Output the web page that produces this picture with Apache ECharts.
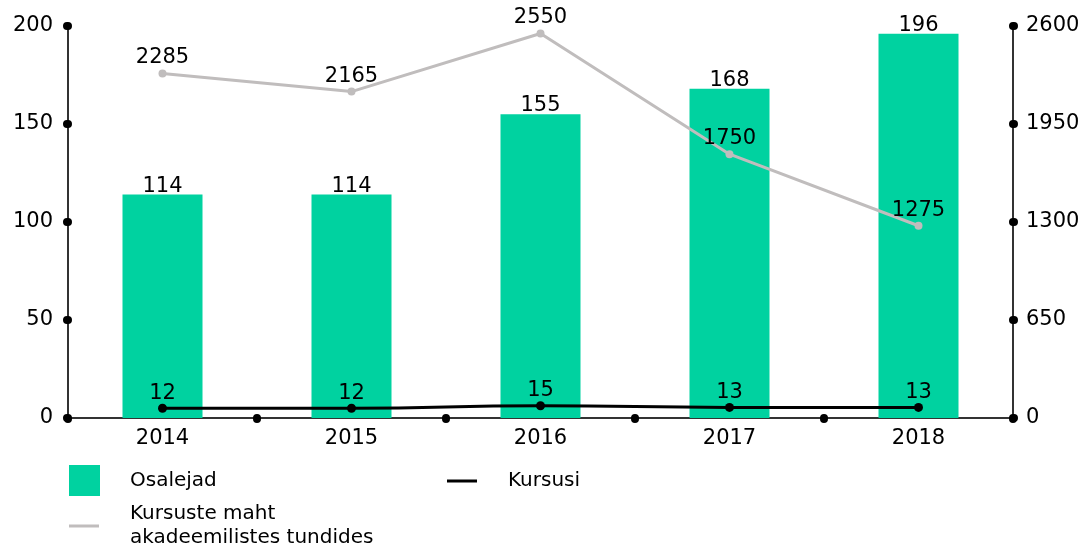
<!DOCTYPE html>
<html>
<head>
<meta charset="utf-8">
<script src="https://cdn.jsdelivr.net/npm/echarts@6/dist/echarts.min.js"></script>
<style>
  html, body { margin: 0; padding: 0; background: #fff; }
  #chart { width: 1088px; height: 547px; }
</style>
</head>
<body>
<div id="chart"></div>
<script>
// andmed
const years = ['2014', '2015', '2016', '2017', '2018'];
const osalejad = [114, 114, 155, 168, 196];
const kursusi = [12, 12, 15, 13, 13];
const tunnid = [2285, 2165, 2550, 1750, 1275];

const font = 'DejaVu Sans';
const green = '#00d2a0';
const grey = '#c0bdbd';

// punktid telgedel
const dotTick = {
    show: true,
    length: 1,
    lineStyle: { color: '#000', width: 8, cap: 'round' }
};
const axisLine = { show: true, lineStyle: { color: '#333', width: 2 } };
const labelStyle = { color: '#000', fontSize: 21, fontFamily: font };
const legendText = { color: '#000', fontSize: 20, fontFamily: font };

const myChart = echarts.init(document.getElementById('chart'));
myChart.setOption({
    animation: false,
    backgroundColor: '#fff',
    grid: { left: 68, right: 75, top: 26, bottom: 129 },
    legend: [
        {
            left: 69, top: 465, padding: 0, itemWidth: 31, itemHeight: 31,
            data: [{ name: 'Osalejad', icon: 'rect' }],
            textStyle: { ...legendText, padding: [0, 0, 0, 25] }
        },
        {
            left: 447, top: 471, padding: 0, itemWidth: 30, itemHeight: 3,
            data: [{ name: 'Kursusi', icon: 'rect' }],
            textStyle: { ...legendText, padding: [0, 0, 0, 26] }
        },
        {
            left: 69, top: 502, padding: 0, itemWidth: 30, itemHeight: 3,
            data: [{ name: 'Kursuste maht\nakadeemilistes tundides', icon: 'rect' }],
            textStyle: { ...legendText, lineHeight: 24, padding: [0, 0, 0, 26] }
        }
    ],
    xAxis: {
        type: 'category',
        data: years,
        axisLine: axisLine,
        axisTick: dotTick,
        axisLabel: { margin: 10, ...labelStyle }
    },
    yAxis: [
        {
            type: 'value', min: 0, max: 200, interval: 50,
            axisLine: axisLine,
            axisTick: dotTick,
            splitLine: { show: false },
            axisLabel: { margin: 15, ...labelStyle }
        },
        {
            type: 'value', min: 0, max: 2600, interval: 650,
            position: 'right',
            axisLine: axisLine,
            axisTick: dotTick,
            splitLine: { show: false },
            axisLabel: { margin: 13, formatter: v => String(v), ...labelStyle }
        },
        {
            // kursuste arvu jaoks peidetud telg
            type: 'value', min: 0, max: 480, show: false
        }
    ],
    series: [
        {
            name: 'Osalejad',
            type: 'bar',
            data: osalejad,
            barWidth: 80,
            itemStyle: { color: green },
            label: { show: true, position: 'top', distance: -2, ...labelStyle }
        },
        {
            name: 'Kursuste maht\nakadeemilistes tundides',
            type: 'line',
            yAxisIndex: 1,
            data: tunnid,
            symbol: 'circle',
            symbolSize: 8,
            itemStyle: { color: grey },
            lineStyle: { color: grey, width: 3 },
            label: { show: true, position: 'top', distance: 1, ...labelStyle }
        },
        {
            name: 'Kursusi',
            type: 'line',
            yAxisIndex: 2,
            data: kursusi,
            smooth: true,
            symbol: 'circle',
            symbolSize: 9,
            itemStyle: { color: '#000' },
            lineStyle: { color: '#000', width: 3 },
            label: { show: true, position: 'top', distance: 0, ...labelStyle }
        }
    ]
});
</script>
</body>
</html>
